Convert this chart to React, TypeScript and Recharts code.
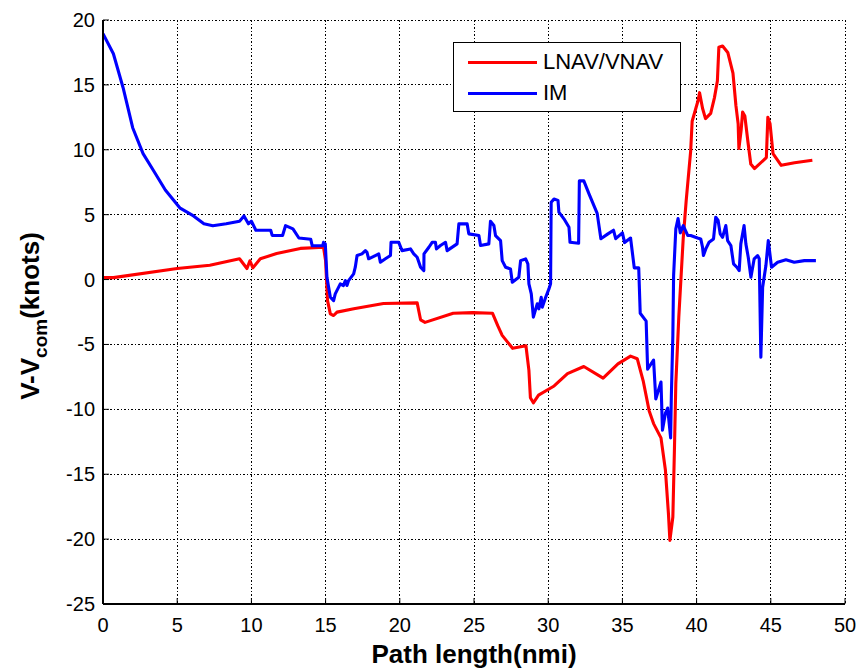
import React from "react";
import { LineChart, Line, XAxis, YAxis, CartesianGrid, Legend } from "recharts";

const xTicks = [0, 5, 10, 15, 20, 25, 30, 35, 40, 45, 50];
const yTicks = [-25, -20, -15, -10, -5, 0, 5, 10, 15, 20];

const seriesNames = ["LNAV/VNAV", "IM"];
const seriesColors = ["#ff0000", "#0000ff"];

const lnavX = [0, 0.7, 5.0, 7.2, 9.2, 9.7, 9.9, 10.1, 10.6, 11.7, 13.3, 14.86, 15.0, 15.13, 15.32, 15.54, 15.77, 16.9, 18.9, 21.17, 21.4, 21.7, 23.6, 24.9, 26.25, 26.6, 26.9, 27.6, 28.5, 28.7, 28.8, 29.0, 29.35, 30.4, 31.3, 32.4, 33.7, 34.7, 35.55, 36.0, 36.4, 36.8, 37.1, 37.6, 37.9, 38.1, 38.2, 38.4, 38.5, 38.6, 38.8, 39.1, 39.3, 39.6, 39.7, 40.1, 40.2, 40.4, 40.6, 40.95, 41.2, 41.4, 41.5, 41.75, 42.1, 42.45, 42.65, 42.8, 42.85, 43.0, 43.1, 43.25, 43.45, 43.65, 43.9, 44.7, 44.8, 44.95, 45.15, 45.7, 46.6, 47.8];
const lnavY = [0.15, 0.15, 0.85, 1.1, 1.6, 0.85, 1.45, 0.9, 1.6, 2.0, 2.4, 2.49, 1.45, -1.62, -2.64, -2.77, -2.51, -2.25, -1.85, -1.8, -3.1, -3.3, -2.6, -2.55, -2.6, -3.55, -4.3, -5.3, -5.1, -7.0, -9.1, -9.5, -8.9, -8.2, -7.25, -6.7, -7.6, -6.5, -5.9, -6.1, -7.8, -10.1, -11.1, -12.2, -14.7, -18.0, -20.1, -18.3, -13.4, -8.0, -2.9, 3.2, 6.1, 9.9, 12.2, 13.8, 14.4, 13.2, 12.4, 12.8, 14.0, 15.3, 17.9, 18.0, 17.5, 15.9, 13.4, 12.0, 10.1, 11.5, 12.9, 12.6, 10.7, 8.9, 8.55, 9.4, 12.5, 12.0, 9.7, 8.8, 9.0, 9.2];

const imX = [0, 0.7, 1.35, 2.0, 2.7, 3.4, 4.2, 5.2, 6.1, 6.8, 7.4, 8.3, 9.2, 9.5, 9.8, 10.0, 10.3, 11.3, 11.4, 12.1, 12.3, 12.8, 13.2, 14.0, 14.1, 14.8, 14.86, 14.98, 15.09, 15.32, 15.54, 15.65, 15.99, 16.2, 16.33, 16.44, 16.55, 16.89, 17.0, 17.12, 17.45, 17.68, 17.79, 17.9, 18.35, 18.58, 18.69, 19.03, 19.37, 19.41, 19.93, 20.15, 20.72, 20.94, 21.17, 21.4, 21.62, 21.63, 21.96, 22.18, 22.4, 22.47, 22.74, 23.08, 23.19, 23.86, 23.98, 24.54, 24.65, 25.33, 25.44, 26.0, 26.11, 26.34, 26.45, 26.79, 26.9, 27.13, 27.46, 27.58, 28.02, 28.14, 28.48, 28.63, 28.7, 28.86, 29.0, 29.26, 29.37, 29.53, 29.6, 29.83, 30.05, 30.16, 30.2, 30.39, 30.66, 30.72, 31.06, 31.4, 31.47, 32.05, 32.1, 32.4, 32.75, 33.3, 33.55, 34.0, 34.4, 34.55, 35.0, 35.15, 35.55, 35.8, 36.1, 36.2, 36.6, 36.7, 37.1, 37.25, 37.6, 37.7, 37.9, 38.05, 38.25, 38.3, 38.4, 38.45, 38.6, 38.75, 38.9, 39.1, 39.4, 39.6, 40.06, 40.28, 40.4, 40.46, 40.62, 40.84, 41.14, 41.29, 41.45, 41.59, 41.75, 41.97, 42.09, 42.31, 42.49, 42.71, 42.87, 42.98, 43.2, 43.32, 43.48, 43.66, 43.88, 44.11, 44.22, 44.33, 44.45, 44.67, 44.83, 45.05, 45.46, 46.02, 46.58, 47.26, 48.04];
const imY = [18.95, 17.4, 14.8, 11.7, 9.7, 8.4, 6.9, 5.5, 4.9, 4.3, 4.15, 4.3, 4.5, 4.9, 4.3, 4.5, 3.8, 3.8, 3.4, 3.4, 4.15, 3.9, 3.2, 3.1, 2.6, 2.6, 2.87, 2.75, 0.18, -1.36, -1.62, -1.1, -0.33, -0.46, -0.08, -0.46, -0.08, 0.44, 0.95, 1.85, 1.98, 2.23, 2.1, 1.6, 1.85, 1.98, 1.33, 1.6, 1.85, 2.87, 2.87, 2.23, 2.36, 1.98, 1.72, 0.95, 0.69, 1.98, 2.49, 2.87, 2.87, 2.36, 2.62, 2.87, 2.23, 2.75, 4.29, 4.29, 3.52, 3.39, 2.62, 2.75, 4.49, 4.16, 3.39, 3.0, 1.46, 0.95, 0.82, -0.21, 0.18, 1.46, 1.59, 1.21, -0.33, -1.1, -2.9, -1.87, -2.26, -1.36, -2.13, -1.36, -0.72, -0.33, 5.96, 6.2, 6.1, 5.2, 4.68, 4.03, 2.87, 2.8, 7.6, 7.6, 6.6, 5.1, 3.15, 3.5, 3.8, 3.15, 3.6, 2.85, 3.2, 0.9, 0.9, -2.6, -3.2, -6.9, -6.2, -9.2, -7.9, -11.6, -10.3, -9.9, -12.2, -8.9, -4.3, 0.3, 3.9, 4.7, 3.6, 4.15, 3.4, 3.39, 3.2, 3.13, 2.49, 1.85, 2.36, 2.87, 3.13, 4.8, 4.55, 3.52, 3.26, 4.16, 3.0, 2.62, 1.21, 0.95, 0.69, 2.75, 4.16, 2.75, 1.72, 0.18, 1.6, 1.85, 1.6, -5.99, -0.59, 1.08, 3.0, 0.95, 1.33, 1.52, 1.33, 1.46, 1.46];

const lnavData = lnavX.map((x, i) => ({ x, y: lnavY[i] }));
const imData = imX.map((x, i) => ({ x, y: imY[i] }));

const FONT = "'Liberation Sans', Arial, Helvetica, sans-serif";

const XTickBottom = (props: any) => {
  const { x, y, payload } = props;
  return (
    <g>
      <line x1={x} x2={x} y1={y} y2={y - 6} stroke="#000" strokeWidth={1} />
      <text x={x} y={y + 28} textAnchor="middle" fontSize={20} fontFamily={FONT} fill="#000">
        {payload.value}
      </text>
    </g>
  );
};

const XTickTop = (props: any) => {
  const { x, y } = props;
  return <line x1={x} x2={x} y1={y} y2={y + 6} stroke="#000" strokeWidth={1} />;
};

const YTickLeft = (props: any) => {
  const { x, y, payload } = props;
  return (
    <g>
      <line x1={x} x2={x + 6} y1={y} y2={y} stroke="#000" strokeWidth={1} />
      <text x={x - 8} y={y + 7} textAnchor="end" fontSize={20} fontFamily={FONT} fill="#000">
        {payload.value}
      </text>
    </g>
  );
};

const YTickRight = (props: any) => {
  const { x, y } = props;
  return <line x1={x} x2={x - 6} y1={y} y2={y} stroke="#000" strokeWidth={1} />;
};

const LegendBox = () => (
  <div
    style={{
      width: 226,
      height: 68,
      border: "1.5px solid #000",
      background: "#fff",
      position: "relative",
      boxSizing: "content-box",
    }}
  >
    {seriesNames.map((name, i) => (
      <div
        key={name}
        style={{
          position: "absolute",
          left: 14,
          top: 6 + i * 31,
          height: 26,
          display: "flex",
          alignItems: "center",
        }}
      >
        <div style={{ width: 69, height: 3, background: seriesColors[i] }} />
        <span
          style={{
            marginLeft: 6,
            fontFamily: FONT,
            fontSize: 22,
            color: "#000",
            lineHeight: "26px",
          }}
        >
          {name}
        </span>
      </div>
    ))}
  </div>
);

export default function App() {
  return (
    <div style={{ position: "absolute", left: 0, top: 0, width: 858, height: 669, background: "#fff" }}>
      <LineChart width={858} height={669} margin={{ top: 20, right: 13, left: 0, bottom: 0 }}>
        <CartesianGrid
          xAxisId="b"
          yAxisId="l"
          stroke="#000"
          strokeDasharray="1.5 2"
          strokeWidth={1}
          shapeRendering="crispEdges"
        />
        <XAxis
          xAxisId="b"
          type="number"
          dataKey="x"
          domain={[0, 50]}
          ticks={xTicks}
          height={65}
          tickSize={0}
          tickMargin={0}
          tickLine={false}
          tick={<XTickBottom />}
          axisLine={{ stroke: "#000", strokeWidth: 2 }}
          allowDataOverflow
          label={{
            value: "Path length(nmi)",
            position: "insideBottom",
            offset: 6,
            style: { fontFamily: FONT, fontSize: 26, fontWeight: "bold", fill: "#000" },
          }}
        />
        <XAxis
          xAxisId="t"
          orientation="top"
          type="number"
          dataKey="x"
          domain={[0, 50]}
          ticks={xTicks}
          height={0}
          tickSize={0}
          tickMargin={0}
          tickLine={false}
          tick={<XTickTop />}
          axisLine={{ stroke: "#000", strokeWidth: 1.5 }}
          allowDataOverflow
        />
        <YAxis
          yAxisId="l"
          type="number"
          domain={[-25, 20]}
          ticks={yTicks}
          width={103}
          tickSize={0}
          tickMargin={0}
          tickLine={false}
          tick={<YTickLeft />}
          axisLine={{ stroke: "#000", strokeWidth: 2 }}
          allowDataOverflow
          label={() => (
            <text
              transform="translate(39, 316) rotate(-90)"
              textAnchor="middle"
              fontFamily={FONT}
              fontSize={26}
              fontWeight="bold"
              fill="#000"
            >
              <tspan>V-V</tspan>
              <tspan fontSize={19} dy={8}>com</tspan>
              <tspan dy={-8}>(knots)</tspan>
            </text>
          )}
        />
        <YAxis
          yAxisId="r"
          orientation="right"
          type="number"
          domain={[-25, 20]}
          ticks={yTicks}
          width={0}
          tickSize={0}
          tickMargin={0}
          tickLine={false}
          tick={<YTickRight />}
          axisLine={{ stroke: "#000", strokeWidth: 1.5 }}
          allowDataOverflow
        />
        <Legend
          layout="vertical"
          verticalAlign="middle"
          align="center"
          content={<LegendBox />}
          wrapperStyle={{ position: "absolute", left: 453, top: 42, width: 230, height: 72 }}
        />
        <Line
          xAxisId="b"
          yAxisId="l"
          data={lnavData}
          dataKey="y"
          name={seriesNames[0]}
          stroke={seriesColors[0]}
          strokeWidth={3.1}
          strokeLinejoin="round"
          dot={false}
          activeDot={false}
          isAnimationActive={false}
          type="linear"
        />
        <Line
          xAxisId="b"
          yAxisId="l"
          data={imData}
          dataKey="y"
          name={seriesNames[1]}
          stroke={seriesColors[1]}
          strokeWidth={3.1}
          strokeLinejoin="round"
          dot={false}
          activeDot={false}
          isAnimationActive={false}
          type="linear"
        />
      </LineChart>
    </div>
  );
}
